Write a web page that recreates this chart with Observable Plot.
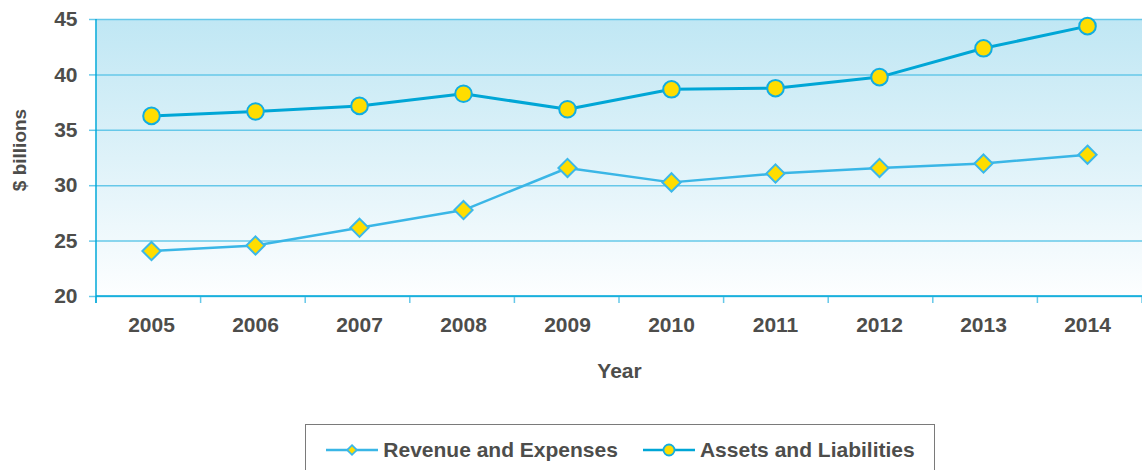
<!DOCTYPE html>
<html><head><meta charset="utf-8">
<script src="https://cdn.jsdelivr.net/npm/d3@7"></script>
<script src="https://cdn.jsdelivr.net/npm/@observablehq/plot@0.6"></script>
<style>
body{margin:0;background:#fff;font-family:"Liberation Sans",Arial,sans-serif;}
#wrap{position:relative;width:1142px;height:470px;overflow:hidden;}
#chart svg{display:block;}
#legend{position:absolute;left:305px;top:424px;width:630px;height:60px;border:1.5px solid #7a7a7a;box-sizing:border-box;
  display:flex;align-items:flex-start;justify-content:center;padding-top:13px;gap:24px;
  font-size:21px;font-weight:bold;color:#4d4d4b;}
.item{display:flex;align-items:center;gap:4px;}
.item svg{display:block;}
</style></head>
<body><div id="wrap"><div id="chart"></div><div id="legend"></div></div>
<script>
const years = ["2005","2006","2007","2008","2009","2010","2011","2012","2013","2014"];
const revenue = [24.1, 24.6, 26.2, 27.8, 31.6, 30.3, 31.1, 31.6, 32.0, 32.8];
const assets = [36.3, 36.7, 37.2, 38.3, 36.9, 38.7, 38.8, 39.8, 42.4, 44.4];
const seriesNames = ["Revenue and Expenses", "Assets and Liabilities"];
const yTicks = [20, 25, 30, 35, 40, 45];

const revData = years.map((y, i) => ({year: y, value: revenue[i]}));
const assetData = years.map((y, i) => ({year: y, value: assets[i]}));

const textColor = "#4d4d4b";
const gridColor = "#66c8e9";
const axisColor = "#00a8d8";
const yellow = "#ffdd00";

function axesMark(index, scales, values, dims) {
  const g = d3.create("svg:g");
  const ml = dims.marginLeft, mt = dims.marginTop;
  const bottom = dims.height - dims.marginBottom;
  const right = dims.width - dims.marginRight;
  const n = years.length;
  const step = (right - ml) / n;
  for (let i = 0; i <= n; i++) {
    const x = ml + i * step;
    g.append("line").attr("x1", x).attr("x2", x).attr("y1", bottom).attr("y2", bottom + 7)
      .attr("stroke", gridColor).attr("stroke-width", 1.5);
  }
  g.append("line").attr("x1", ml).attr("x2", ml).attr("y1", mt).attr("y2", bottom + 7)
    .attr("stroke", axisColor).attr("stroke-width", 1.5);
  g.append("line").attr("x1", ml).attr("x2", right).attr("y1", bottom).attr("y2", bottom)
    .attr("stroke", axisColor).attr("stroke-width", 1.5);
  return g.node();
}

const svg = Plot.plot({
  width: 1142, height: 420,
  marginLeft: 96, marginRight: 0, marginTop: 19, marginBottom: 124,
  x: {type: "band", domain: years, padding: 0},
  y: {domain: [20, 45]},
  style: {fontFamily: "'Liberation Sans', Arial, sans-serif", fontSize: "21px", fontWeight: "bold", color: textColor, background: "transparent"},
  marks: [
    Plot.frame({fill: "url(#bgGrad)", stroke: null}),
    Plot.gridY(yTicks, {stroke: gridColor, strokeOpacity: 1, strokeWidth: 1.5}),
    Plot.axisY(yTicks, {tickSize: 7, tickPadding: 12, stroke: gridColor, strokeWidth: 1.5, fill: textColor, label: null, fontSize: 21, fontWeight: "bold"}),
    Plot.axisX({tickSize: 0, tickPadding: 21, label: null, fill: textColor, fontSize: 21, fontWeight: "bold"}),
    axesMark,
    Plot.text(["Year"], {frameAnchor: "bottom", lineAnchor: "middle", dy: 75, fill: textColor, fontSize: 21, fontWeight: "bold"}),
    Plot.text(["$ billions"], {frameAnchor: "left", textAnchor: "middle", lineAnchor: "middle", rotate: -90, dx: -77, dy: -8, fill: textColor, fontSize: 19, fontWeight: "bold"}),
    Plot.line(revData, {x: "year", y: "value", stroke: "#3ab6e6", strokeWidth: 2.5}),
    Plot.line(assetData, {x: "year", y: "value", stroke: "#00a6d6", strokeWidth: 3}),
    Plot.dot(revData, {x: "year", y: "value", symbol: "diamond2", r: 8.2, fill: yellow, stroke: "#3cb8e8", strokeWidth: 2}),
    Plot.dot(assetData, {x: "year", y: "value", r: 8.3, fill: yellow, stroke: "#13ade0", strokeWidth: 2})
  ]
});

d3.select(svg).insert("defs", ":first-child").html(
  `<linearGradient id="bgGrad" x1="0" y1="0" x2="0" y2="1">
     <stop offset="0" stop-color="#c0e7f4"/>
     <stop offset="0.5" stop-color="#def2f9"/>
     <stop offset="1" stop-color="#fdfeff"/>
   </linearGradient>`);
document.getElementById("chart").appendChild(svg);

// legend
const legend = d3.select("#legend");
const styles = [
  {line: "#3ab6e6", stroke: "#3cb8e8", symbol: d3.symbolDiamond2, size: 60},
  {line: "#00a6d6", stroke: "#13ade0", symbol: d3.symbolCircle, size: 95}
];
seriesNames.forEach((name, i) => {
  const it = legend.append("div").attr("class", "item");
  const s = it.append("svg").attr("width", 54).attr("height", 20);
  s.append("line").attr("x1", 1).attr("x2", 53).attr("y1", 10).attr("y2", 10)
    .attr("stroke", styles[i].line).attr("stroke-width", 2.5);
  s.append("path").attr("transform", "translate(27,10)")
    .attr("d", d3.symbol(styles[i].symbol, styles[i].size)())
    .attr("fill", yellow).attr("stroke", styles[i].stroke).attr("stroke-width", 1.8);
  it.append("span").text(name);
});
</script>
</body></html>
